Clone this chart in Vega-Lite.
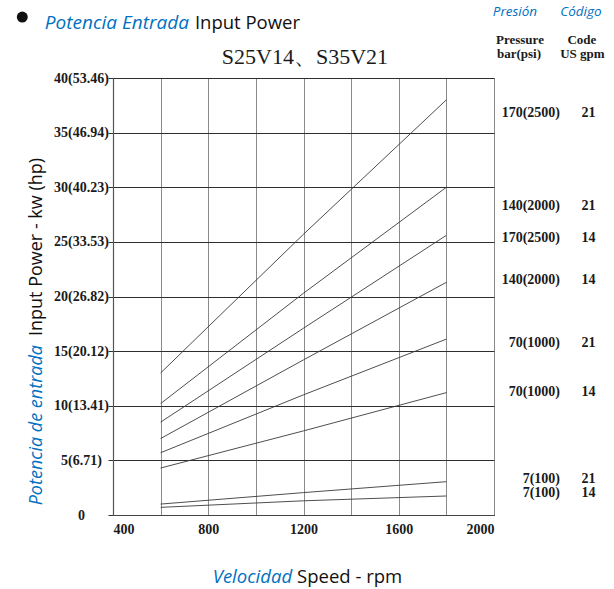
{
  "$schema": "https://vega.github.io/schema/vega-lite/v6.json",
  "autosize": {"type": "none"},
  "width": 381,
  "height": 437,
  "padding": {"left": 113, "top": 78, "right": 120, "bottom": 74},
  "background": "white",
  "config": {
    "view": {"stroke": "#808080", "strokeWidth": 1},
    "axis": {"labelFont": "Liberation Serif", "labelFontWeight": "bold", "labelFontSize": 14, "labelColor": "#1a1a1a"}
  },
  "datasets": {
    "curves": [
      {"series": "170 bar, 21 gpm", "rpm": 600, "kw": 13.0},
      {"series": "170 bar, 21 gpm", "rpm": 1200, "kw": 25.7},
      {"series": "170 bar, 21 gpm", "rpm": 1800, "kw": 38.0},
      {"series": "140 bar, 21 gpm", "rpm": 600, "kw": 10.2},
      {"series": "140 bar, 21 gpm", "rpm": 1200, "kw": 20.3},
      {"series": "140 bar, 21 gpm", "rpm": 1800, "kw": 30.0},
      {"series": "170 bar, 14 gpm", "rpm": 600, "kw": 8.5},
      {"series": "170 bar, 14 gpm", "rpm": 1200, "kw": 17.1},
      {"series": "170 bar, 14 gpm", "rpm": 1800, "kw": 25.6},
      {"series": "140 bar, 14 gpm", "rpm": 600, "kw": 7.0},
      {"series": "140 bar, 14 gpm", "rpm": 1200, "kw": 14.2},
      {"series": "140 bar, 14 gpm", "rpm": 1800, "kw": 21.3},
      {"series": "70 bar, 21 gpm", "rpm": 600, "kw": 5.7},
      {"series": "70 bar, 21 gpm", "rpm": 1200, "kw": 11.0},
      {"series": "70 bar, 21 gpm", "rpm": 1800, "kw": 16.1},
      {"series": "70 bar, 14 gpm", "rpm": 600, "kw": 4.3},
      {"series": "70 bar, 14 gpm", "rpm": 1200, "kw": 7.7},
      {"series": "70 bar, 14 gpm", "rpm": 1800, "kw": 11.2},
      {"series": "7 bar, 21 gpm", "rpm": 600, "kw": 1.0},
      {"series": "7 bar, 21 gpm", "rpm": 1200, "kw": 2.05},
      {"series": "7 bar, 21 gpm", "rpm": 1800, "kw": 3.05},
      {"series": "7 bar, 14 gpm", "rpm": 600, "kw": 0.7},
      {"series": "7 bar, 14 gpm", "rpm": 1200, "kw": 1.3},
      {"series": "7 bar, 14 gpm", "rpm": 1800, "kw": 1.74}
    ],
    "labels": [
      {"pressure": "170(2500)", "code": "21", "label_kw": 36.8},
      {"pressure": "140(2000)", "code": "21", "label_kw": 28.28},
      {"pressure": "170(2500)", "code": "14", "label_kw": 25.35},
      {"pressure": "140(2000)", "code": "14", "label_kw": 21.51},
      {"pressure": "70(1000)", "code": "21", "label_kw": 15.74},
      {"pressure": "70(1000)", "code": "14", "label_kw": 11.26},
      {"pressure": "7(100)", "code": "21", "label_kw": 3.3},
      {"pressure": "7(100)", "code": "14", "label_kw": 2.01}
    ]
  },
  "layer": [
    {
      "data": {"name": "curves"},
      "mark": {"type": "line", "color": "#3a3a3a", "strokeWidth": 0.9},
      "encoding": {
        "x": {
          "field": "rpm", "type": "quantitative",
          "scale": {"domain": [400, 2000], "nice": false, "zero": false},
          "axis": {
            "title": null,
            "values": [400, 600, 800, 1000, 1200, 1400, 1600, 1800, 2000],
            "labelExpr": "datum.value % 400 == 0 ? datum.value : ''",
            "ticks": false, "labelPadding": 7,
            "grid": true, "gridColor": "#8a8a8a", "gridWidth": 1, "gridOpacity": 1,
            "domainColor": "#444444", "domainWidth": 1.2
          }
        },
        "y": {
          "field": "kw", "type": "quantitative",
          "scale": {"domain": [0, 40], "nice": false},
          "axis": {
            "title": null,
            "values": [0, 5, 10, 15, 20, 25, 30, 35, 40],
            "labelExpr": "datum.value == 0 ? '0' : datum.value == 5 ? '5(6.71)' : datum.value == 10 ? '10(13.41)' : datum.value == 15 ? '15(20.12)' : datum.value == 20 ? '20(26.82)' : datum.value == 25 ? '25(33.53)' : datum.value == 30 ? '30(40.23)' : datum.value == 35 ? '35(46.94)' : '40(53.46)'",
            "labelAlign": "center", "labelPadding": 27, "labelBaseline": "middle",
            "tickSize": 5, "tickColor": "#333333",
            "grid": true, "gridColor": "#2e2e2e", "gridWidth": 1, "gridOpacity": 1,
            "domainColor": "#555555", "domainWidth": 1.2
          }
        },
        "detail": {"field": "series"}
      }
    },
    {
      "data": {"name": "labels"},
      "mark": {"type": "text", "font": "Liberation Serif", "fontWeight": "bold", "fontSize": 14, "align": "right", "baseline": "middle", "color": "#1a1a1a"},
      "encoding": {
        "x": {"datum": 2277, "type": "quantitative"},
        "y": {"field": "label_kw", "type": "quantitative"},
        "text": {"field": "pressure"}
      }
    },
    {
      "data": {"name": "labels"},
      "mark": {"type": "text", "font": "Liberation Serif", "fontWeight": "bold", "fontSize": 14, "align": "center", "baseline": "middle", "color": "#1a1a1a"},
      "encoding": {
        "x": {"datum": 2397, "type": "quantitative"},
        "y": {"field": "label_kw", "type": "quantitative"},
        "text": {"field": "code"}
      }
    },
    {
      "data": {"values": [{}]},
      "mark": {"type": "text", "font": "Liberation Serif", "fontWeight": "bold", "fontSize": 13, "align": "center", "baseline": "middle", "color": "#1a1a1a", "text": "Pressure"},
      "encoding": {"x": {"datum": 2109, "type": "quantitative"}, "y": {"datum": 43.5, "type": "quantitative"}}
    },
    {
      "data": {"values": [{}]},
      "mark": {"type": "text", "font": "Liberation Serif", "fontWeight": "bold", "fontSize": 13, "align": "center", "baseline": "middle", "color": "#1a1a1a", "text": "bar(psi)"},
      "encoding": {"x": {"datum": 2105, "type": "quantitative"}, "y": {"datum": 42.22, "type": "quantitative"}}
    },
    {
      "data": {"values": [{}]},
      "mark": {"type": "text", "font": "Liberation Serif", "fontWeight": "bold", "fontSize": 13, "align": "center", "baseline": "middle", "color": "#1a1a1a", "text": "Code"},
      "encoding": {"x": {"datum": 2369, "type": "quantitative"}, "y": {"datum": 43.5, "type": "quantitative"}}
    },
    {
      "data": {"values": [{}]},
      "mark": {"type": "text", "font": "Liberation Serif", "fontWeight": "bold", "fontSize": 13, "align": "center", "baseline": "middle", "color": "#1a1a1a", "text": "US gpm"},
      "encoding": {"x": {"datum": 2371, "type": "quantitative"}, "y": {"datum": 42.22, "type": "quantitative"}}
    },
    {
      "data": {"values": [{}]},
      "mark": {"type": "text", "font": "Open Sans", "fontStyle": "italic", "fontSize": 13.5, "align": "center", "baseline": "middle", "color": "#0070C0", "text": "Presión"},
      "encoding": {"x": {"datum": 2088, "type": "quantitative"}, "y": {"datum": 46.04, "type": "quantitative"}}
    },
    {
      "data": {"values": [{}]},
      "mark": {"type": "text", "font": "Open Sans", "fontStyle": "italic", "fontSize": 13.5, "align": "center", "baseline": "middle", "color": "#0070C0", "text": "Código"},
      "encoding": {"x": {"datum": 2365, "type": "quantitative"}, "y": {"datum": 46.04, "type": "quantitative"}}
    },
    {
      "data": {"values": [{}]},
      "mark": {"type": "text", "font": "Liberation Serif", "fontSize": 22, "align": "center", "baseline": "middle", "color": "#1a1a1a", "text": "S25V14、S35V21"},
      "encoding": {"x": {"datum": 1206, "type": "quantitative"}, "y": {"datum": 41.88, "type": "quantitative"}}
    },
    {
      "data": {"values": [{}]},
      "mark": {"type": "point", "shape": "circle", "filled": true, "size": 120, "color": "#111111", "opacity": 1},
      "encoding": {"x": {"datum": 19, "type": "quantitative"}, "y": {"datum": 45.58, "type": "quantitative"}}
    },
    {
      "data": {"values": [{}]},
      "mark": {"type": "text", "font": "Open Sans", "fontStyle": "italic", "fontSize": 19, "align": "right", "baseline": "middle", "color": "#0070C0", "text": "Potencia Entrada"},
      "encoding": {"x": {"datum": 719, "type": "quantitative"}, "y": {"datum": 45.03, "type": "quantitative"}}
    },
    {
      "data": {"values": [{}]},
      "mark": {"type": "text", "font": "Open Sans", "fontSize": 18.5, "align": "left", "baseline": "middle", "color": "#111111", "text": "Input Power"},
      "encoding": {"x": {"datum": 744, "type": "quantitative"}, "y": {"datum": 45.03, "type": "quantitative"}}
    },
    {
      "data": {"values": [{}]},
      "mark": {"type": "text", "font": "Open Sans", "fontStyle": "italic", "fontSize": 18.5, "align": "right", "baseline": "middle", "color": "#0070C0", "text": "Velocidad"},
      "encoding": {"x": {"datum": 1152, "type": "quantitative"}, "y": {"datum": -5.68, "type": "quantitative"}}
    },
    {
      "data": {"values": [{}]},
      "mark": {"type": "text", "font": "Open Sans", "fontSize": 18.5, "align": "left", "baseline": "middle", "color": "#111111", "text": "Speed - rpm"},
      "encoding": {"x": {"datum": 1173, "type": "quantitative"}, "y": {"datum": -5.68, "type": "quantitative"}}
    },
    {
      "data": {"values": [{}]},
      "mark": {"type": "text", "font": "Open Sans", "fontSize": 18, "angle": 270, "align": "left", "baseline": "middle", "color": "#111111", "text": "Input Power - kw (hp)"},
      "encoding": {"x": {"datum": 81, "type": "quantitative"}, "y": {"datum": 16.38, "type": "quantitative"}}
    },
    {
      "data": {"values": [{}]},
      "mark": {"type": "text", "font": "Open Sans", "fontStyle": "italic", "fontSize": 18, "angle": 270, "align": "right", "baseline": "middle", "color": "#0070C0", "text": "Potencia de entrada"},
      "encoding": {"x": {"datum": 81, "type": "quantitative"}, "y": {"datum": 15.56, "type": "quantitative"}}
    }
  ]
}
